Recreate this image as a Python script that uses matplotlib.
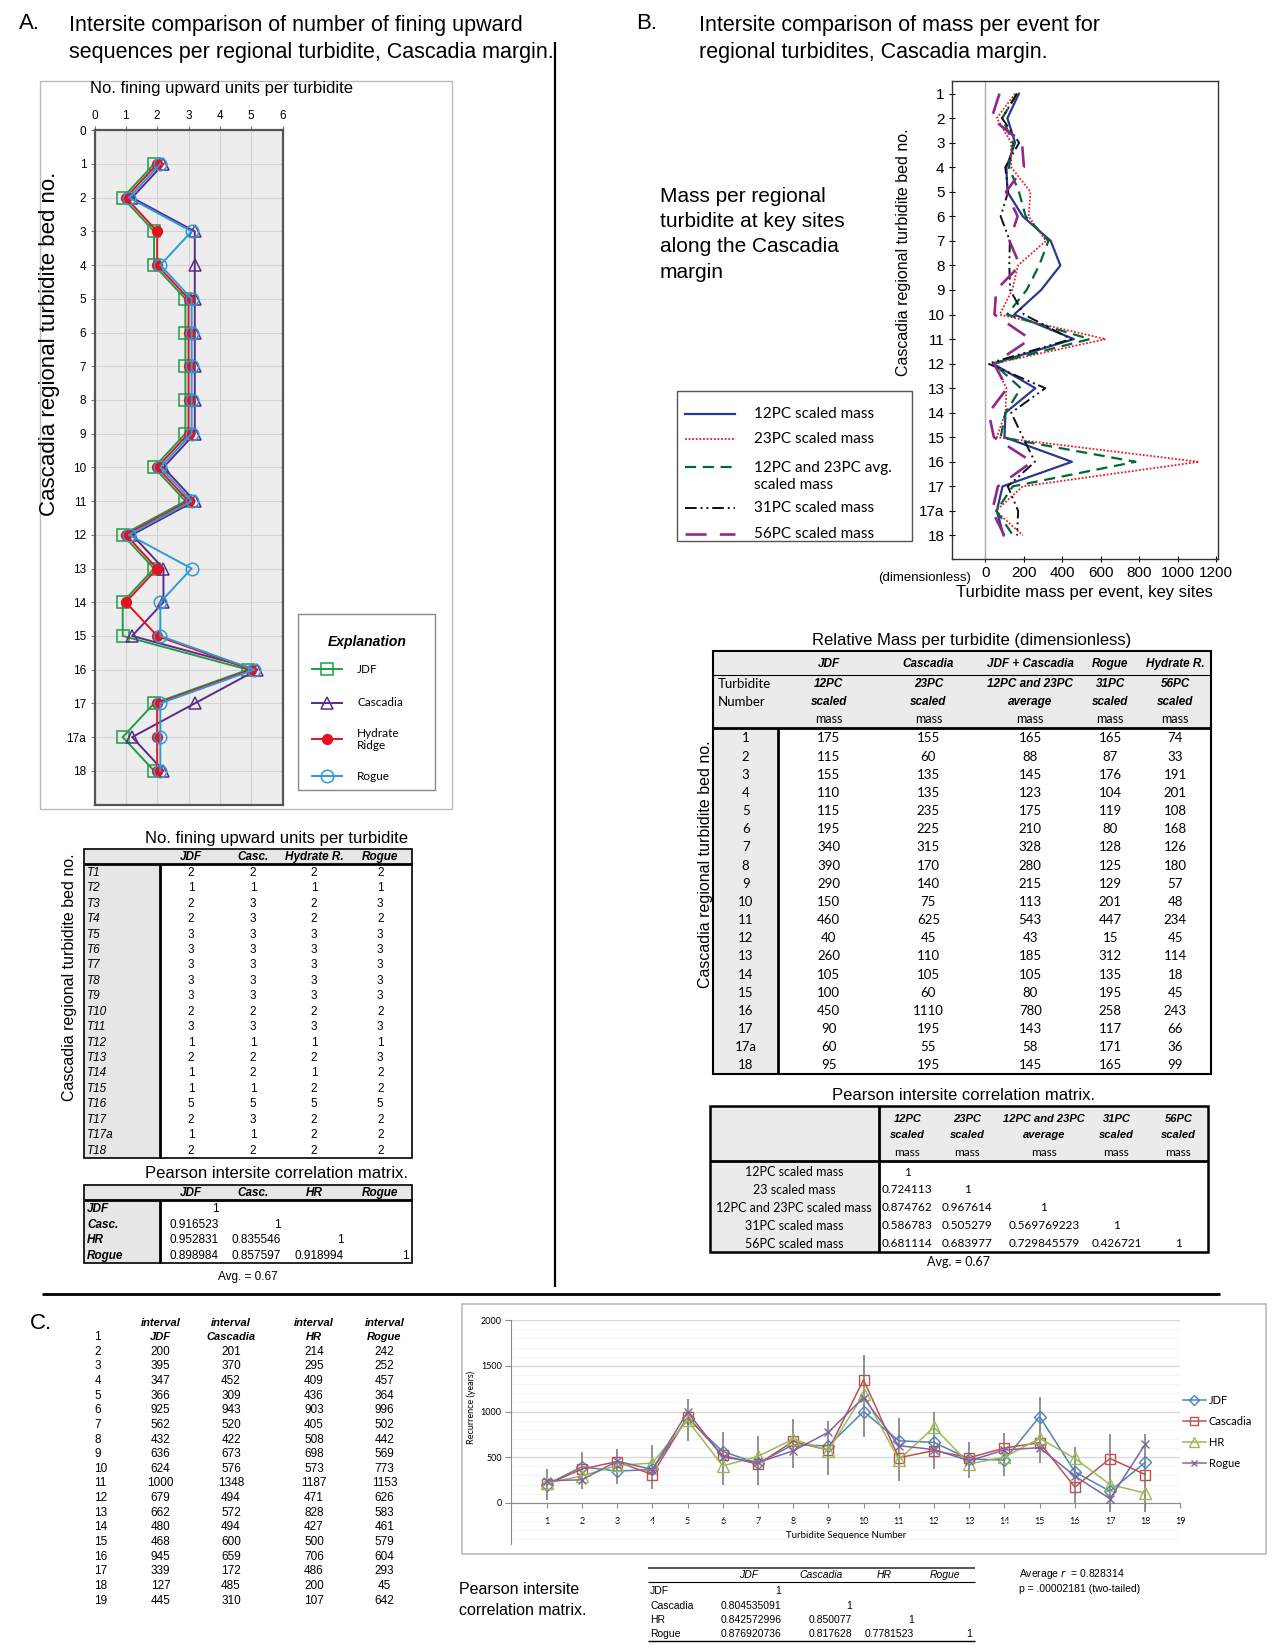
import numpy as np
import matplotlib
matplotlib.use('Agg')
import matplotlib.pyplot as plt
from matplotlib.patches import Rectangle

plt.rcParams['font.family'] = ['Liberation Sans', 'DejaVu Sans']

# ---------------- data ----------------
# A: number of fining upward units per turbidite
beds = ['1', '2', '3', '4', '5', '6', '7', '8', '9', '10', '11', '12', '13', '14', '15', '16', '17', '17a', '18']
fu_jdf = [2, 1, 2, 2, 3, 3, 3, 3, 3, 2, 3, 1, 2, 1, 1, 5, 2, 1, 2]
fu_casc = [2, 1, 3, 3, 3, 3, 3, 3, 3, 2, 3, 1, 2, 2, 1, 5, 3, 1, 2]
fu_hr = [2, 1, 2, 2, 3, 3, 3, 3, 3, 2, 3, 1, 2, 1, 2, 5, 2, 2, 2]
fu_rogue = [2, 1, 3, 2, 3, 3, 3, 3, 3, 2, 3, 1, 3, 2, 2, 5, 2, 2, 2]
fu_cols = ['JDF', 'Casc.', 'Hydrate R.', 'Rogue']

corr_a_labels = ['JDF', 'Casc.', 'HR', 'Rogue']
corr_a = [[1], [0.916523, 1], [0.952831, 0.835546, 1], [0.898984, 0.857597, 0.918994, 1]]

# B: relative mass per turbidite
m12 = [175, 115, 155, 110, 115, 195, 340, 390, 290, 150, 460, 40, 260, 105, 100, 450, 90, 60, 95]
m23 = [155, 60, 135, 135, 235, 225, 315, 170, 140, 75, 625, 45, 110, 105, 60, 1110, 195, 55, 195]
mavg = [165, 88, 145, 123, 175, 210, 328, 280, 215, 113, 543, 43, 185, 105, 80, 780, 143, 58, 145]
m31 = [165, 87, 176, 104, 119, 80, 128, 125, 129, 201, 447, 15, 312, 135, 195, 258, 117, 171, 165]
m56 = [74, 33, 191, 201, 108, 168, 126, 180, 57, 48, 234, 45, 114, 18, 45, 243, 66, 36, 99]
mass_sites = ['JDF', 'Cascadia', 'JDF + Cascadia', 'Rogue', 'Hydrate R.']
mass_cores = ['12PC', '23PC', '12PC and 23PC', '31PC', '56PC']
mass_kind = ['scaled', 'scaled', 'average', 'scaled', 'scaled']
mass_names = ['12PC scaled mass', '23PC scaled mass', '12PC and 23PC avg.\nscaled mass',
              '31PC scaled mass', '56PC scaled mass']

corr_b_labels = ['12PC scaled mass', '23 scaled mass', '12PC and 23PC scaled mass',
                 '31PC scaled mass', '56PC scaled mass']
corr_b = [[1], [0.724113, 1], [0.874762, 0.967614, 1],
          [0.586783, 0.505279, 0.569769223, 1],
          [0.681114, 0.683977, 0.729845579, 0.426721, 1]]

# C: recurrence intervals
seq_rows = list(range(1, 20))
int_jdf = [200, 395, 347, 366, 925, 562, 432, 636, 624, 1000, 679, 662, 480, 468, 945, 339, 127, 445]
int_casc = [201, 370, 452, 309, 943, 520, 422, 673, 576, 1348, 494, 572, 494, 600, 659, 172, 485, 310]
int_hr = [214, 295, 409, 436, 903, 405, 508, 698, 573, 1187, 471, 828, 427, 500, 706, 486, 200, 107]
int_rogue = [242, 252, 457, 364, 996, 502, 442, 569, 773, 1153, 626, 583, 461, 579, 604, 293, 45, 642]
int_names = ['JDF', 'Cascadia', 'HR', 'Rogue']
err_lo = [33, 153, 208, 146, 672, 190, 197, 383, 307, 719, 237, 372, 270, 296, 438, 0, -100, -100]
err_hi = [372, 555, 591, 635, 1139, 781, 734, 920, 894, 1624, 930, 993, 664, 766, 1157, 609, 755, 755]

corr_c_labels = ['JDF', 'Cascadia', 'HR', 'Rogue']
corr_c = [[1], [0.804535091, 1], [0.842572996, 0.850077, 1], [0.876920736, 0.817628, 0.7781523, 1]]

# ---------------- layout helpers (coords in 1214x1571 page units) ----------------
W, H = 1214.0, 1571.0
fig = plt.figure(figsize=(12.75, 16.5), dpi=100)


def add_ax(x0, y0, x1, y1):
    return fig.add_axes([x0 / W, 1 - y1 / H, (x1 - x0) / W, (y1 - y0) / H])


ov = fig.add_axes([0, 0, 1, 1])
ov.set_xlim(0, W)
ov.set_ylim(H, 0)
ov.axis('off')
ov.set_zorder(5)
ov.patch.set_visible(False)

CAL = ['Lato', 'Liberation Sans']


def txt(x, y, s, size=9, ha='center', **kw):
    ov.text(x, y, s, fontsize=size, ha=ha, va='center', **kw)


def box(x0, y0, x1, y1, fc='none', ec='black', lw=1.0):
    ov.add_patch(Rectangle((x0, y0), x1 - x0, y1 - y0, facecolor=fc, edgecolor=ec, lw=lw))


def hline(y, x0, x1, lw=1.0, color='black'):
    ov.plot([x0, x1], [y, y], color=color, lw=lw, solid_capstyle='butt')


def vline(x, y0, y1, lw=1.0, color='black'):
    ov.plot([x, x], [y0, y1], color=color, lw=lw, solid_capstyle='butt')


# dividers
vline(528, 40, 1225, lw=1.6)
hline(1232, 40, 1162, lw=2)

# ================= Panel A =================
txt(18, 22, 'A.', 16, ha='left')
txt(66, 24, 'Intersite comparison of number of fining upward', 15.5, ha='left')
txt(66, 50, 'sequences per regional turbidite, Cascadia margin.', 15.5, ha='left')

box(38, 77, 430, 770, ec='#BBBBBB', lw=1)
txt(211, 84, 'No. fining upward units per turbidite', 12)
ov.text(47, 327, 'Cascadia regional turbidite bed no.', fontsize=16, rotation=90,
        ha='center', va='center')

axA = add_ax(90, 124, 269, 766)
ypos = np.arange(1, len(beds) + 1)
axA.set_facecolor('#EDEDED')
axA.set_xlim(0, 6)
axA.set_ylim(20, 0)
axA.set_xticks(range(7))
axA.set_yticks(range(20))
axA.set_yticklabels(['0'] + beds)
axA.xaxis.tick_top()
axA.tick_params(labelsize=8.5, length=3, color='#777777', pad=3)
axA.grid(True, color='#D2D2D2', lw=0.8)
axA.set_axisbelow(True)
for s in axA.spines.values():
    s.set_color('#555555')
    s.set_linewidth(1.6)

series_a = [
    ('JDF', fu_jdf, -0.1, '#1E9E48', 's', 'none', 9),
    ('Cascadia', fu_casc, 0.2, '#5B2C86', '^', 'none', 9),
    ('Hydrate\nRidge', fu_hr, 0.0, '#E2131F', 'o', '#E2131F', 7),
    ('Rogue', fu_rogue, 0.1, '#2E9AD6', 'o', 'none', 9),
]
for name, vals, off, col, mk, mfc, ms in series_a:
    axA.plot(np.array(vals) + off, ypos, color=col, lw=1.4, marker=mk, mfc=mfc,
             mec=col, ms=ms, mew=1.1, clip_on=False)

# legend A
box(284, 585, 414, 752, ec='#888888', lw=1)
txt(350, 611, 'Explanation', 10, weight='bold', style='italic')
for (name, vals, off, col, mk, mfc, ms), ly in zip(series_a, [637, 669, 704, 739]):
    ov.plot([297, 326], [ly, ly], color=col, lw=1.4)
    ov.plot([311.5], [ly], marker=mk, color=col, mfc=mfc, mec=col, ms=ms, mew=1.1)
    txt(340, ly, name, 8.5, ha='left', family=CAL)

# table A
txt(263, 798, 'No. fining upward units per turbidite', 12)
ov.text(66, 930, 'Cascadia regional turbidite bed no.', fontsize=11.5, rotation=90,
        ha='center', va='center')
box(80, 808, 392, 823, fc='#E6E6E6', ec='none')
box(80, 823, 152, 1103, fc='#E6E6E6', ec='none')
box(80, 808, 392, 1103, lw=1.2)
hline(823, 80, 392, lw=2)
vline(152, 823, 1103, lw=2)
colA = [182, 241, 299, 362]
for cx, name in zip(colA, fu_cols):
    txt(cx, 815.5, name, 8.5, weight='bold', style='italic')
for i, b in enumerate(beds):
    ry = 831 + i * 14.7
    txt(83, ry, 'T' + b, 8.5, ha='left', style='italic')
    for cx, vals in zip(colA, [fu_jdf, fu_casc, fu_hr, fu_rogue]):
        txt(cx, ry, str(vals[i]), 8.5)

# correlation A
txt(263, 1117, 'Pearson intersite correlation matrix.', 12)
box(80, 1128, 392, 1143, fc='#E6E6E6', ec='none')
box(80, 1143, 152, 1203, fc='#E6E6E6', ec='none')
box(80, 1128, 392, 1203, lw=1.2)
hline(1143, 80, 392, lw=2)
vline(152, 1143, 1203, lw=2)
for cx, name in zip(colA, corr_a_labels):
    txt(cx, 1135.5, name, 8.5, weight='bold', style='italic')
rightA = [208, 267, 327, 389]
for i, (lab, row) in enumerate(zip(corr_a_labels, corr_a)):
    ry = 1151 + i * 15
    txt(83, ry, lab, 8.5, ha='left', weight='bold', style='italic')
    for rx, v in zip(rightA, row):
        txt(rx, ry, str(v), 8.5, ha='right')
txt(236, 1216, 'Avg. = 0.67', 8.5)

# ================= Panel B =================
txt(606, 22, 'B.', 16, ha='left')
txt(666, 24, 'Intersite comparison of mass per event for', 15.5, ha='left')
txt(666, 50, 'regional turbidites, Cascadia margin.', 15.5, ha='left')
for k, line in enumerate(['Mass per regional', 'turbidite at key sites', 'along the Cascadia', 'margin']):
    txt(628, 187 + k * 24, line, 15, ha='left')

axB = add_ax(906, 77, 1160, 532)
axB.set_xlim(-175, 1210)
axB.set_ylim(19.95, 0.48)
axB.axvline(0, color='#AAAAAA', lw=1)
axB.set_xticks(range(0, 1201, 200))
axB.set_yticks(ypos)
axB.set_yticklabels(beds)
axB.tick_params(labelsize=11, length=4, direction='inout', pad=3)
for s in axB.spines.values():
    s.set_color('#333333')
    s.set_linewidth(1.0)
series_b = [
    (m12, '#2B3990', '-', 1.6),
    (m23, '#ED1C24', (0, (1, 1)), 1.3),
    (mavg, '#006838', (0, (5, 3)), 1.6),
    (m31, '#111111', (0, (6, 2, 1, 2, 1, 2)), 1.4),
    (m56, '#92278F', (0, (8, 5)), 1.9),
]
for vals, col, ls, lw in series_b:
    axB.plot(vals, ypos, color=col, ls=ls, lw=lw)
axB.set_xlabel('Turbidite mass per event, key sites', fontsize=12, labelpad=4)
ov.text(860, 240, 'Cascadia regional turbidite bed no.', fontsize=11.5, rotation=90,
        ha='center', va='center')
txt(925, 550, '(dimensionless)', 9.5, ha='right')

# legend B
box(645, 372, 868, 515, ec='#555555', lw=1)
for (vals, col, ls, lw), name, ly in zip(series_b, mass_names, [394, 418, 454, 484, 508]):
    lyl = ly - 9 if '\n' in name else ly
    ov.plot([652, 700], [lyl, lyl], color=col, ls=ls, lw=lw)
    txt(718, ly, name, 11, ha='left', family=CAL, linespacing=1.3)

# table B
txt(925, 610, 'Relative Mass per turbidite (dimensionless)', 12)
ov.text(672, 823, 'Cascadia regional turbidite bed no.', fontsize=11.5, rotation=90,
        ha='center', va='center')
box(679, 620, 1153, 693, fc='#EBEBEB', ec='none')
box(679, 693, 741, 1023, fc='#EBEBEB', ec='none')
box(679, 620, 1153, 1023, lw=1.5)
hline(643, 679, 1153, lw=0.8)
hline(693, 679, 1153, lw=2)
vline(741, 693, 1023, lw=2)
colB = [789, 884, 981, 1057, 1119]
txt(683, 651, 'Turbidite', 9.5, ha='left', family=CAL)
txt(683, 668, 'Number', 9.5, ha='left', family=CAL)
for cx, site, core, kind in zip(colB, mass_sites, mass_cores, mass_kind):
    txt(cx, 632, site, 8.5, weight='bold', style='italic')
    txt(cx, 651, core, 8.5, weight='bold', style='italic')
    txt(cx, 668, kind, 8.5, weight='bold', style='italic')
    txt(cx, 685, 'mass', 9, family=CAL)
for i, b in enumerate(beds):
    ry = 703 + i * 17.3
    txt(710, ry, b, 9.5, family=CAL)
    for cx, vals in zip(colB, [m12, m23, mavg, m31, m56]):
        txt(cx, ry, str(vals[i]), 9.5, family=CAL)

# correlation B
txt(917, 1043, 'Pearson intersite correlation matrix.', 12)
box(676, 1053, 1150, 1105, fc='#EBEBEB', ec='none')
box(676, 1105, 837, 1192, fc='#EBEBEB', ec='none')
box(676, 1053, 1150, 1192, lw=1.8)
hline(1105, 676, 1150, lw=2)
vline(837, 1053, 1192, lw=2)
colBc = [864, 921, 994, 1063, 1122]
for cx, core, kind in zip(colBc, mass_cores, mass_kind):
    txt(cx, 1065, core, 8, weight='bold', style='italic')
    txt(cx, 1081, kind, 8, weight='bold', style='italic')
    txt(cx, 1097, 'mass', 8.5, family=CAL)
for i, (lab, row) in enumerate(zip(corr_b_labels, corr_b)):
    ry = 1116 + i * 17
    txt(756, ry, lab, 9, family=CAL)
    for cx, v in zip(colBc, row):
        txt(cx, ry, str(v), 8.5, family=CAL)
txt(913, 1202, 'Avg. = 0.67', 9, family=CAL)

# ================= Panel C =================
txt(28, 1260, 'C.', 16, ha='left')
colC = [153, 220, 299, 366]
for cx, name in zip(colC, int_names):
    txt(cx, 1260, 'interval', 8, weight='bold', style='italic')
    txt(cx, 1273, name, 8, weight='bold', style='italic')
for i, r in enumerate(seq_rows):
    ry = 1273 + i * 13.94
    txt(90, ry, str(r), 8.5, ha='left')
    if i > 0:
        for cx, vals in zip(colC, [int_jdf, int_casc, int_hr, int_rogue]):
            txt(cx, ry, str(vals[i - 1]), 8.5)

box(440, 1242, 1205, 1480, ec='#BBBBBB', lw=1.2)
axC = add_ax(487, 1257, 1124, 1470)
axC.set_xlim(0, 19)
axC.set_ylim(-450, 2000)
axC.set_yticks(range(0, 2001, 500))
axC.set_yticks(range(-400, 2001, 100), minor=True)
axC.set_xticks(range(1, 20))
axC.grid(True, which='minor', axis='y', color='#F4F4F4', lw=0.7)
axC.grid(True, which='major', axis='y', color='#D9D9D9', lw=1.0)
axC.set_axisbelow(True)
axC.spines['top'].set_visible(False)
axC.spines['right'].set_visible(False)
axC.spines['bottom'].set_position(('data', 0))
axC.spines['bottom'].set_color('#8C8C8C')
axC.spines['left'].set_color('#8C8C8C')
axC.tick_params(axis='x', labelsize=6.5, color='#8C8C8C', length=3.5, pad=7)
axC.tick_params(axis='y', labelsize=6.5, color='#8C8C8C', length=4, pad=3)
axC.tick_params(axis='y', which='minor', length=0)
for lbl in axC.get_xticklabels() + axC.get_yticklabels():
    lbl.set_family(CAL)
xs = np.arange(1, len(int_jdf) + 1)
axC.vlines(xs, err_lo, err_hi, color='#7F7F7F', lw=1.2, zorder=2)
series_c = [
    (int_jdf, '#4F81BD', 'D', 6),
    (int_casc, '#C0504D', 's', 7.5),
    (int_hr, '#9BBB59', '^', 8),
    (int_rogue, '#8064A2', 'x', 5.5),
]
for vals, col, mk, ms in series_c:
    axC.plot(xs, vals, color=col, lw=1.1, marker=mk, mfc='none', mec=col, ms=ms, mew=1.0, zorder=3)
axC.set_xlabel('Turbidite Sequence Number', fontsize=7, family=CAL, labelpad=3)
ov.text(449, 1340, 'Recurrence (years)', fontsize=6.5, rotation=90, ha='center', va='center', family=CAL)
for (vals, col, mk, ms), name, ly in zip(series_c, int_names, [1333, 1353, 1373, 1393]):
    ov.plot([1126, 1148], [ly, ly], color=col, lw=1.1)
    ov.plot([1137], [ly], marker=mk, color=col, mfc='none', mec=col, ms=ms * 0.85, mew=1.0)
    txt(1151, ly, name, 8, ha='left', family=CAL)

# correlation C
txt(437, 1513, 'Pearson intersite', 11.5, ha='left')
txt(437, 1533, 'correlation matrix.', 11.5, ha='left')
hline(1493, 617, 928, lw=1.4, color='#555555')
hline(1506, 617, 928, lw=0.8)
hline(1562, 617, 928, lw=1.0)
hdr_c = [713, 782, 842, 900]
for cx, name in zip(hdr_c, corr_c_labels):
    txt(cx, 1500, name, 7.5, style='italic')
rightC = [744, 811, 870, 926]
for i, (lab, row) in enumerate(zip(corr_c_labels, corr_c)):
    ry = 1515 + i * 13.7
    txt(619, ry, lab, 7.5, ha='left')
    for rx, v in zip(rightC, row):
        txt(rx, ry, str(v), 7.5, ha='right')
txt(970, 1499, 'Average $r$  = 0.828314', 7.5, ha='left')
txt(970, 1513, 'p = .00002181 (two-tailed)', 7.5, ha='left')

fig.savefig('out.png', dpi=100)
